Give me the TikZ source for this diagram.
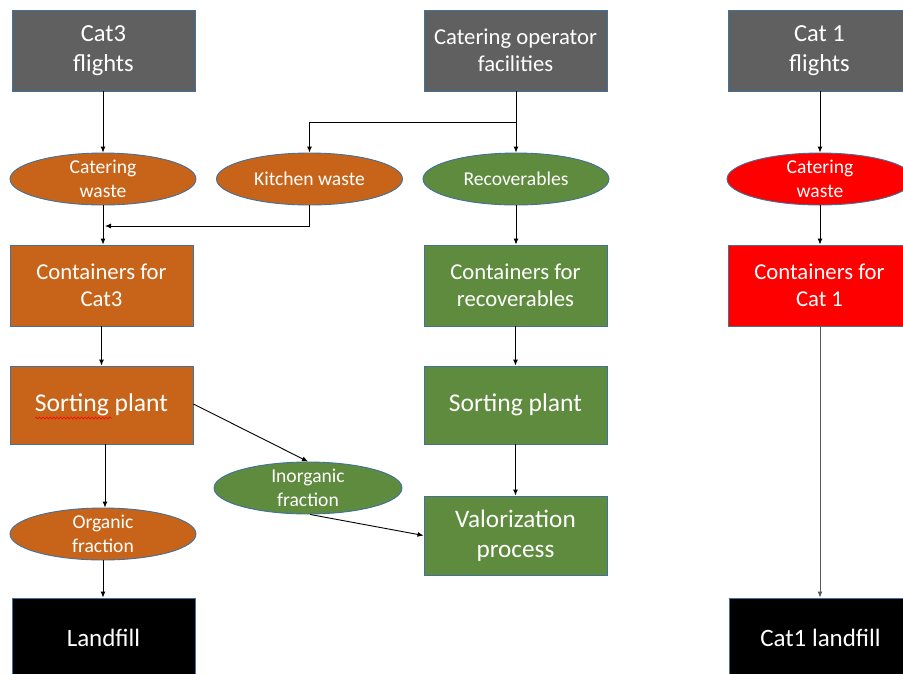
\documentclass[tikz,border=0pt]{standalone}
\usepackage{fontspec}
\setmainfont{Carlito}
\usetikzlibrary{shapes.geometric,arrows.meta,decorations.pathmorphing}
\definecolor{cgray}{HTML}{606060}
\definecolor{corange}{HTML}{C86419}
\definecolor{cgreen}{HTML}{5E8B3E}
\definecolor{cred}{HTML}{FF0000}
\definecolor{cborder}{HTML}{41719C}
\tikzset{
  boxbase/.style={rectangle, draw=cborder, line width=0.9pt, text=white, align=center,
    minimum width=183pt, minimum height=81pt, inner sep=0pt},
  graybox/.style={boxbase, fill=cgray, font=\fontsize{24.5}{30}\selectfont},
  orangebox/.style={boxbase, fill=corange, font=\fontsize{22.7}{27.5}\selectfont},
  greenbox/.style={boxbase, fill=cgreen, font=\fontsize{22.7}{27.5}\selectfont},
  redbox/.style={boxbase, fill=cred, font=\fontsize{22.7}{27.5}\selectfont},
  blackbox/.style={boxbase, fill=black, font=\fontsize{25}{30}\selectfont, minimum height=79pt},
  ellbase/.style={ellipse, draw=cborder, line width=0.9pt, text=white, align=center,
    minimum width=186pt, minimum height=52pt, inner xsep=0pt, inner ysep=-14pt,
    font=\fontsize{19.6}{23.5}\selectfont},
  orangeell/.style={ellbase, fill=corange},
  greenell/.style={ellbase, fill=cgreen},
  redell/.style={ellbase, fill=cred},
  arr/.style={-{Latex[length=6pt,width=5pt]}, line width=0.9pt, black},
}
\begin{document}
\begin{tikzpicture}[x=1pt,y=-1pt]
\useasboundingbox (0,0) rectangle (903,673);
\clip (0,0) rectangle (903,673);
% top row
\node[graybox] (f3) at (103.5,50.5) {Cat3\\flights};
\node[graybox, font=\fontsize{22.7}{27.5}\selectfont] (cof) at (515.5,50.5) {Catering operator\\facilities};
\node[graybox] (f1) at (819.5,50.5) {Cat 1\\flights};
% ellipses row
\node[orangeell] (cw3) at (103,179) {Catering\\waste};
\node[orangeell] (kw) at (309.5,179) {Kitchen waste};
\node[greenell] (rec) at (516,179) {Recoverables};
\node[redell] (cw1) at (820,179) {Catering\\waste};
% containers
\node[orangebox] (c3) at (101.5,285.5) {Containers for\\Cat3};
\node[greenbox] (cr) at (515.5,285.5) {Containers for\\recoverables};
\node[redbox] (c1) at (819.5,285.5) {Containers for\\Cat 1};
% sorting
\node[orangebox, minimum height=78pt, font=\fontsize{25.6}{30}\selectfont] (sp3) at (101.5,405) {Sorting plant};
\node[greenbox, minimum height=78pt, font=\fontsize{25.6}{30}\selectfont] (spr) at (515.5,405) {Sorting plant};
\draw[cred, line width=0.6pt, decorate, decoration={snake, amplitude=1pt, segment length=3.5pt}] (35,418) -- (112,418);
% fractions
\node[greenell, minimum width=188pt] (inorg) at (308,488) {Inorganic\\fraction};
\node[greenbox, minimum height=79pt, font=\fontsize{25.2}{30}\selectfont] (val) at (515.5,535.5) {Valorization\\process};
\node[orangeell] (org) at (103,534) {Organic\\fraction};
% landfills
\node[blackbox] (lf) at (103.5,637.5) {Landfill};
\node[blackbox] (lf1) at (820.5,637.5) {Cat1 landfill};
% junctions
\coordinate (j1) at (516,122);
\coordinate (j2) at (105,226);
% connectors
\draw[arr] (f3.south -| cw3.north) -- (cw3.north);
\draw[arr] (cof.south -| rec.north) -- (rec.north);
\draw[arr] (j1) -| (kw.north);
\draw[arr] (kw.south) |- (j2);
\draw[arr] (cw3.south) -- (cw3.south |- c3.north);
\draw[arr] (rec.south) -- (rec.south |- cr.north);
\draw[arr] (f1.south -| cw1.north) -- (cw1.north);
\draw[arr] (cw1.south) -- (cw1.south |- c1.north);
\draw[arr, black!65] (c1.south -| cw1.south) -- (cw1.south |- lf1.north);
\draw[arr] (c3.south) -- (c3.south |- sp3.north);
\draw[arr] (cr.south) -- (cr.south |- spr.north);
\draw[arr] (sp3.south -| org.north) ++(2,0) -- ([xshift=2pt]org.north);
\draw[arr] (org.south) -- (org.south |- lf.north);
\draw[arr] (spr.south) -- (spr.south |- val.north);
\draw[arr] ([yshift=1pt]sp3.east) -- (inorg.north);
\draw[arr] ([xshift=2pt]inorg.south) -- (val.west);
\end{tikzpicture}
\end{document}
